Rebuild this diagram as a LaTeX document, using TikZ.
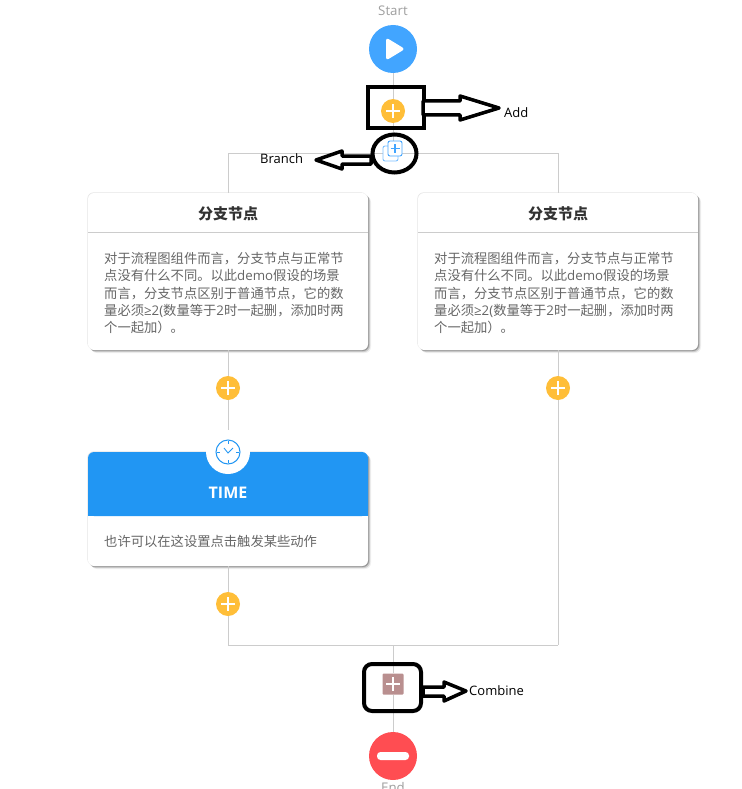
\documentclass[tikz,border=0pt]{standalone}
\usepackage{fontspec}
\setmainfont{Open Sans}
\newfontfamily\cjk{Noto Sans CJK SC}
\usepackage{tikz}
\usetikzlibrary{positioning, shadows, calc}
\definecolor{linegray}{HTML}{CCCCCC}
\definecolor{addyellow}{HTML}{FFBE38}
\definecolor{startblue}{HTML}{42A5FF}
\definecolor{timeblue}{HTML}{2196F3}
\definecolor{endred}{HTML}{FF4D52}
\definecolor{bodygray}{HTML}{666666}
\definecolor{combinebrown}{HTML}{B98F8F}
\newcommand{\lat}[1]{{\rmfamily #1}}
\newcommand{\branchtext}{对于流程图组件而言，分支节点与正常节\\点没有什么不同。以此\lat{demo}假设的场景\\而言，分支节点区别于普通节点，它的数\\量必须\lat{≥2(}数量等于\lat{2}时一起删，添加时两\\个一起加）。}

\begin{document}
\begin{tikzpicture} [
        x = 1pt, y = -1pt,
        line/.style = {draw=linegray, line width=0.8pt},
        addnode/.style = {circle, fill=addyellow, minimum size=24pt, inner sep=0pt,
            path picture={\draw[white, line width=2pt]
                ($(path picture bounding box.center)+(-7,0)$) -- ($(path picture bounding box.center)+(7,0)$)
                ($(path picture bounding box.center)+(0,-7)$) -- ($(path picture bounding box.center)+(0,7)$);}},
        bignode/.style = {circle, minimum size=48pt, inner sep=0pt},
        card/.style = {draw=none, fill=white, rounded corners=6pt, minimum width=280pt, inner sep=0pt,
            drop shadow={shadow xshift=3pt, shadow yshift=-3pt, fill=black, opacity=0.06},
            drop shadow={shadow xshift=2pt, shadow yshift=-2pt, fill=black, opacity=0.15},
            drop shadow={shadow xshift=1pt, shadow yshift=-1pt, fill=black, opacity=0.25},
            drop shadow={shadow xshift=-0.6pt, shadow yshift=0.6pt, fill=black, opacity=0.1}},
        cardtitle/.style = {font=\cjk\fontsize{15}{17}\selectfont\bfseries, text=black!80},
        cardbody/.style = {font=\cjk\fontsize{13.3}{17.3}\selectfont, text=bodygray, align=left, anchor=north west, inner sep=0pt},
        blackmark/.style = {draw=black, line width=4pt},
        hollow/.style = {draw=black, line width=3.5pt, fill=white, line join=round},
        note/.style = {font=\fontsize{13}{15}\selectfont, text=black, anchor=west, inner sep=0pt},
        icontext/.style = {font=\fontsize{13.3}{15}\selectfont, text=black!38}
    ]
    \useasboundingbox (0,0) rectangle (741,789);

    % nodes on the main line
    \node[bignode, fill=startblue]   (start)   at (393,49)  {};
    \node[icontext] (starttext) at (393,11) {Start};
    \node[addnode]                   (add)     at (393,111) {};
    \coordinate                      (branch)  at (393,153);
    \coordinate                      (branchl) at (228,153);
    \coordinate                      (branchr) at (558,153);
    \coordinate                      (joinl)   at (228,645);
    \coordinate                      (joinr)   at (558,645);
    \coordinate                      (join)    at (393,645);
    \node[minimum size=21pt, inner sep=0pt, fill=combinebrown, rounded corners=1pt] (combine) at (393,684) {};
    \node[bignode, fill=endred]      (end)     at (393,756) {};
    \node[icontext] (endtext) at (393,788) {End};

    % cards
    \node[card, minimum height=157pt] (card1) at (228,271.5) {};
    \node[card, minimum height=157pt] (card2) at (558,271.5) {};
    \node[card, minimum height=114pt] (card3) at (228,509) {};

    \node[addnode] (add1) at (228,388) {};
    \node[addnode] (add2) at (558,388) {};
    \node[addnode] (add3) at (228,604) {};

    % connectors
    \path[line] (start) -- (add);
    \path[line] (add) -- (branch);
    \path[line] (branchl) -- (branchr);
    \path[line] (branchl) -- (card1.north);
    \path[line] (branchr) -- (card2.north);
    \path[line] (card1.south) -- (add1);
    \path[line] (add1) -- (card3.north);
    \path[line] (card3.south) -- (add3);
    \path[line] (add3) -- (joinl);
    \path[line] (card2.south) -- (add2);
    \path[line] (add2) -- (joinr);
    \path[line] (joinl) -- (joinr);
    \path[line] (join) -- (combine);
    \path[line] (combine) -- (end);

    % card contents
    \draw[line] (88,232.5) -- (368,232.5);
    \draw[line] (418,232.5) -- (698,232.5);
    \node[cardtitle] (title1) at (228,214) {分支节点};
    \node[cardtitle] (title2) at (558,214) {分支节点};
    \node[cardbody] (body1) at (104,252) {\branchtext};
    \node[cardbody] (body2) at (434,252) {\branchtext};

    \fill[timeblue, rounded corners=6pt] (88,516) -- (88,452) -- (368,452) -- (368,516) -- cycle;
    \fill[timeblue] (88,506) rectangle (368,516);
    \fill[white] (228,452) circle (22);
    \draw[timeblue, line width=1pt] (228,452) circle (12);
    \draw[timeblue, line width=0.8pt] (228,441) -- (228,444) (228,460) -- (228,463) (217,452) -- (220,452) (236,452) -- (239,452);
    \draw[timeblue, line width=0.8pt] (224,448) -- (228,453) -- (233,448);
    \node[font=\bfseries\fontsize{16}{18}\selectfont, text=white] (timetext) at (228,492.5) {TIME};
    \node[cardbody, anchor=west] (body3) at (104,541.5) {也许可以在这设置点击触发某些动作};

    % icons
    \fill[white, rounded corners=3pt] (386,37.5) -- (405,49) -- (386,60.5) -- cycle;
    \fill[white, rounded corners=3.5pt] (377,752) rectangle (409,760);
    \draw[white, line width=2.2pt] (386,684) -- (400,684) (393,677) -- (393,691);
    \draw[startblue!70, line width=0.9pt, fill=white, rounded corners=2pt] (383,146) rectangle (398,161);
    \draw[startblue, line width=0.9pt, fill=white, rounded corners=2pt] (388,141) rectangle (402,156);
    \draw[startblue, line width=1.3pt] (390.5,148.5) -- (399.5,148.5) (395,144) -- (395,153);

    % marks
    \draw[blackmark] (368,87) rectangle (424,128);
    \draw[blackmark] (394.5,153.5) ellipse (22 and 19);
    \draw[blackmark, rounded corners=8pt] (364,664) rectangle (421,711);
    \draw[hollow] (423,101) -- (460,101) -- (460,96) -- (499,108) -- (460,120) -- (460,115) -- (423,115) -- cycle;
    \draw[hollow] (371,156) -- (342,156) -- (342,151) -- (316,160) -- (342,169) -- (342,164) -- (371,164) -- cycle;
    \draw[hollow] (423,687) -- (444,687) -- (444,682) -- (466,691) -- (444,701) -- (444,696) -- (423,696) -- cycle;
    \node[note] (addtext) at (504,113) {Add};
    \node[note] (branchlabel) at (260,159) {Branch};
    \node[note] (combinetext) at (469,691) {Combine};
\end{tikzpicture}
\end{document}
